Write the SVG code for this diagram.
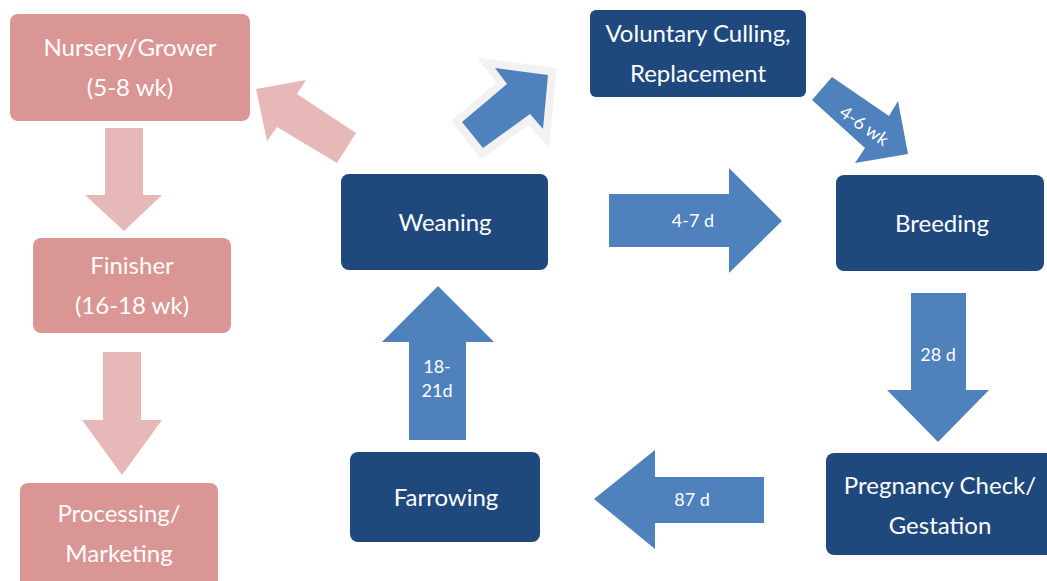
<svg xmlns="http://www.w3.org/2000/svg" width="1047" height="581" viewBox="0 0 1047 581">
<style>
.pink{fill:#D99694}
.dark{fill:#1F497D}
.parr{fill:#E6B9B8}
.barr{fill:#4F81BD}
.t{font-family:Lato,"Open Sans","Liberation Sans",sans-serif;font-size:24px;fill:#FFFFFF;text-anchor:middle}
.s{font-family:Lato,"Open Sans","Liberation Sans",sans-serif;font-size:18px;fill:#FFFFFF;text-anchor:middle}
</style>
<rect width="1047" height="581" fill="#FFFFFF"/>
<g id="connectors">
<polygon class="parr" points="105,128 143,128 143,195 162,195 124,231 85,195 105,195"/>
<polygon class="parr" points="103,352 141,352 141,420 162,420 122,475 82,420 103,420"/>
<polygon class="parr" points="356,133 337,163 277,127 267,141 256,89 306,80 297,94"/>
<polygon points="462,122 507,84 495,68 548,75 543,129 530,114 483,148" fill="#F2F2F2" stroke="#F2F2F2" stroke-width="16" stroke-linejoin="miter"/>
<polygon class="barr" points="462,122 507,84 495,68 548,75 543,129 530,114 483,148"/>
<polygon class="barr" points="832,77 889,116 898,101 908,154 855,163 865,148 812,100"/>
<text class="s" transform="translate(864,126) rotate(35)" dy="6">4-6 wk</text>
<polygon class="barr" points="609,194 729,194 729,168 782,221 729,273 729,247 609,247"/>
<text class="s" x="693" y="227">4-7 d</text>
<polygon class="barr" points="911,293 966,293 966,390 989,390 938,442 887,390 911,390"/>
<text class="s" x="938" y="361">28 d</text>
<polygon class="barr" points="764,477 655,477 655,450 594,499 655,549 655,523 764,523"/>
<text class="s" x="692" y="506">87 d</text>
<polygon class="barr" points="409,440 466,440 466,342 494,342 438,286 382,342 409,342"/>
<text class="s" x="437" y="373">18-</text>
<text class="s" x="437" y="397">21d</text>
</g>
<g id="nursery">
<rect class="pink" x="10" y="14" width="240" height="107" rx="8"/>
<text class="t" x="130" y="56">Nursery/Grower</text>
<text class="t" x="130" y="96">(5-8 wk)</text>
</g>
<g id="finisher">
<rect class="pink" x="33" y="238" width="198" height="95" rx="8"/>
<text class="t" x="132" y="274">Finisher</text>
<text class="t" x="132" y="314">(16-18 wk)</text>
</g>
<g id="processing">
<rect class="pink" x="20" y="483" width="198" height="110" rx="8"/>
<text class="t" x="119" y="522">Processing/</text>
<text class="t" x="119" y="562">Marketing</text>
</g>
<g id="culling">
<rect class="dark" x="590" y="10" width="216" height="87" rx="6"/>
<text class="t" x="698" y="42">Voluntary Culling,</text>
<text class="t" x="698" y="82">Replacement</text>
</g>
<g id="weaning">
<rect class="dark" x="341" y="174" width="207" height="96" rx="8"/>
<text class="t" x="445" y="231">Weaning</text>
</g>
<g id="breeding">
<rect class="dark" x="836" y="175" width="208" height="96" rx="8"/>
<text class="t" x="942" y="232">Breeding</text>
</g>
<g id="pregnancy">
<rect class="dark" x="826" y="453" width="230" height="102" rx="8"/>
<text class="t" x="940" y="494">Pregnancy Check/</text>
<text class="t" x="940" y="534">Gestation</text>
</g>
<g id="farrowing">
<rect class="dark" x="350" y="452" width="190" height="90" rx="8"/>
<text class="t" x="446" y="506">Farrowing</text>
</g>
</svg>
